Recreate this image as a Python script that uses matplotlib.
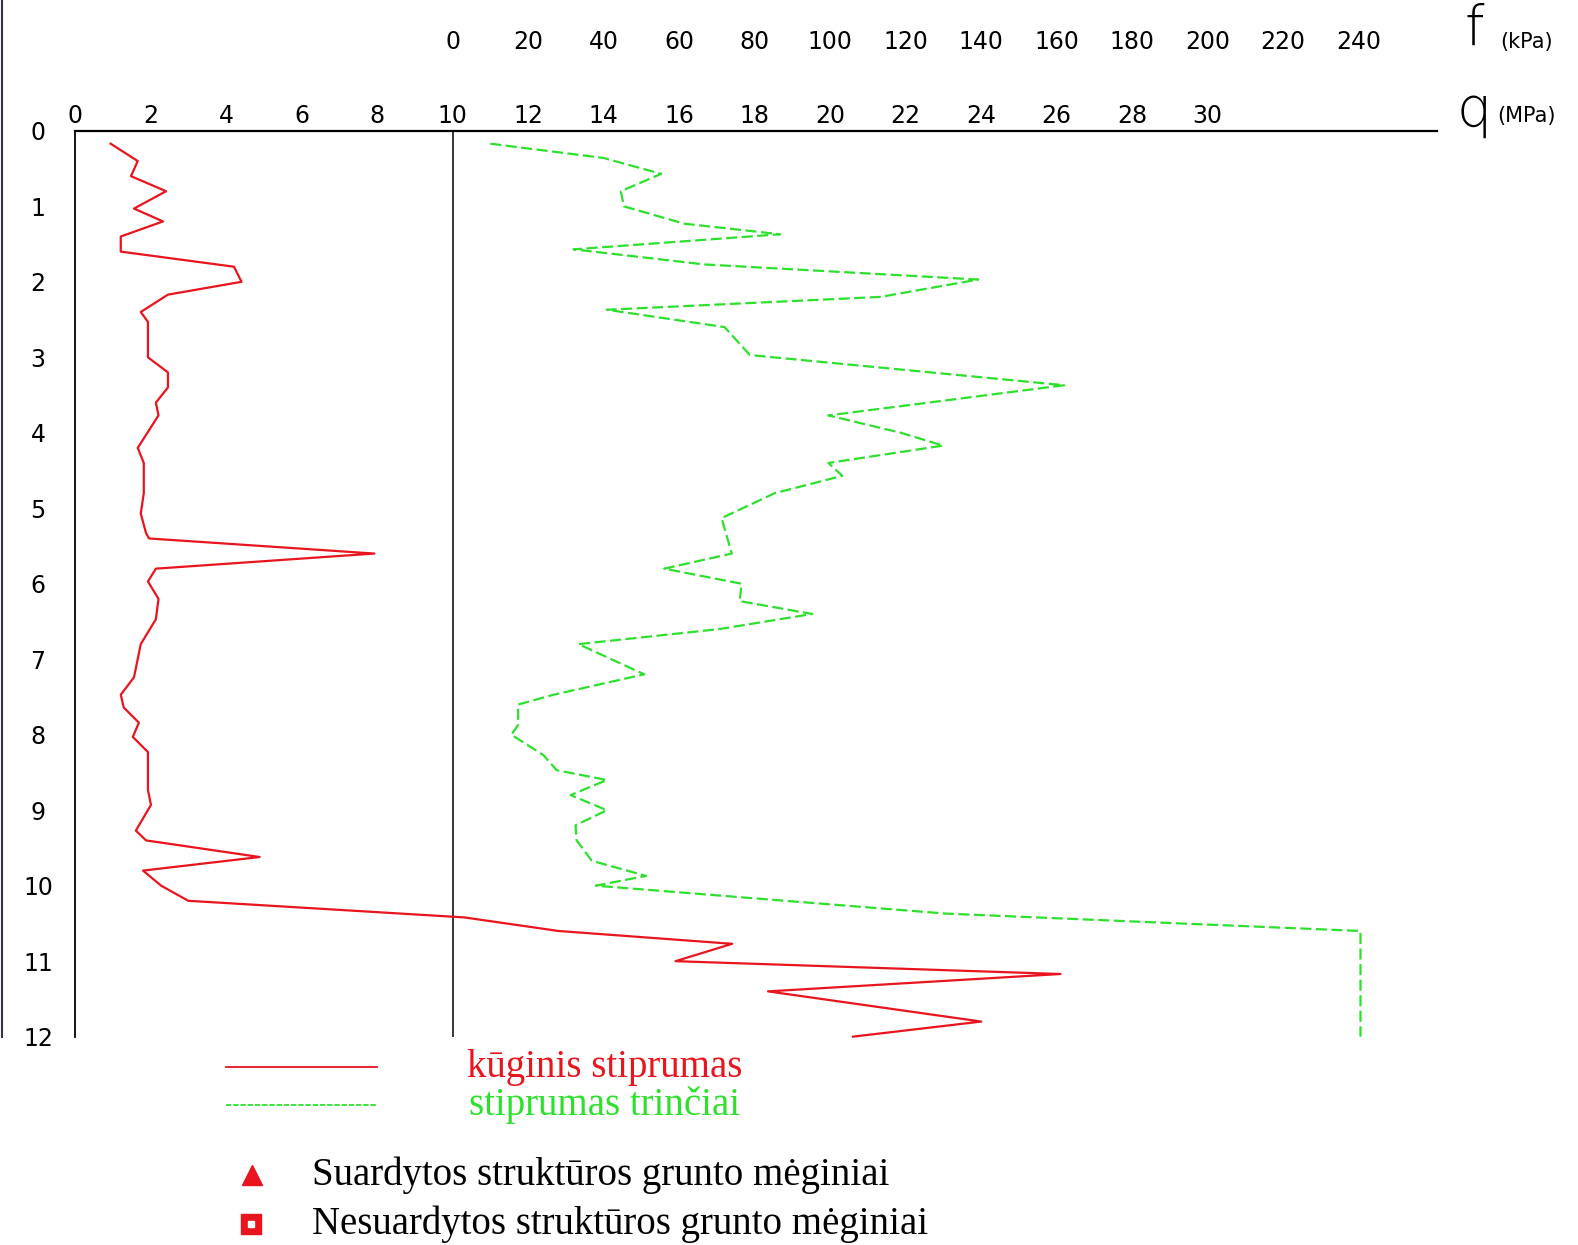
import numpy as np
import matplotlib
matplotlib.use('Agg')
from matplotlib import pyplot as plt
from matplotlib.lines import Line2D

# cone resistance q (MPa) vs depth (m)
q_depth = [0.17, 0.40, 0.60, 0.80, 1.03, 1.20, 1.40, 1.60, 1.80, 2.00, 2.17, 2.40, 2.53,
           3.00, 3.20, 3.40, 3.60, 3.77, 4.20, 4.40, 4.80, 5.07, 5.33, 5.40, 5.60, 5.80,
           5.97, 6.20, 6.47, 6.80, 7.24, 7.47, 7.64, 7.84, 8.03, 8.23, 8.73, 8.93, 9.27,
           9.40, 9.62, 9.80, 10.00, 10.20, 10.42, 10.60, 10.77, 11.00, 11.17, 11.40, 11.80, 12.00]
q_vals = [0.93, 1.65, 1.47, 2.40, 1.55, 2.32, 1.20, 1.20, 4.20, 4.40, 2.45, 1.73, 1.92,
          1.92, 2.45, 2.45, 2.13, 2.20, 1.65, 1.81, 1.81, 1.73, 1.87, 1.95, 7.92, 2.13,
          1.92, 2.20, 2.13, 1.73, 1.55, 1.20, 1.28, 1.68, 1.52, 1.92, 1.92, 2.00, 1.60,
          1.87, 4.88, 1.79, 2.27, 2.99, 10.30, 12.80, 17.40, 15.90, 26.10, 18.35, 24.00, 20.60]

# sleeve friction f (kPa) vs depth (m)
f_depth = [0.17, 0.36, 0.57, 0.80, 1.00, 1.23, 1.37, 1.57, 1.77, 1.97, 2.20, 2.37, 2.60,
           2.97, 3.37, 3.77, 4.00, 4.17, 4.40, 4.57, 4.80, 5.13, 5.60, 5.80, 6.00, 6.23,
           6.40, 6.60, 6.80, 7.20, 7.47, 7.60, 7.87, 8.00, 8.27, 8.47, 8.60, 8.80, 9.00,
           9.20, 9.40, 9.67, 9.87, 10.00, 10.37, 10.60, 12.00]
f_vals = [9.9, 40.0, 55.2, 44.5, 45.3, 61.3, 86.7, 32.0, 66.7, 139.2, 113.3, 40.8, 72.0,
          78.7, 162.0, 99.5, 118.7, 129.9, 99.5, 103.2, 85.3, 71.2, 73.9, 56.0, 76.5, 76.0,
          95.2, 70.7, 33.3, 50.7, 26.7, 17.3, 17.3, 15.5, 24.0, 27.5, 40.8, 31.2, 40.8,
          32.5, 32.8, 36.8, 51.2, 37.9, 130.7, 240.5, 240.5]

q_ticks = list(range(0, 31, 2))
f_ticks = list(range(0, 241, 20))
depth_ticks = list(range(0, 13))

red = '#e8141e'
green = '#2ee02e'

fig = plt.figure(figsize=(15.78, 12.45), dpi=100)
W, H = 1568.0, 1237.0
L, R, T, B = 75 / W, 1428 / W, 1 - 130 / H, 1 - 1030 / H
ax = fig.add_axes([L, B, R - L, T - B])
ax2 = ax.twiny()

q_max = (1428 - 75) / 37.5
ax.set_xlim(0, q_max)
ax.set_ylim(12, 0)
ax.xaxis.tick_top()
ax.set_xticks(q_ticks)
ax.set_yticks(depth_ticks)
ax.tick_params(axis='x', length=0, pad=2, labelsize=17, top=True, labeltop=True,
               bottom=False, labelbottom=False)
ax.tick_params(axis='y', length=0, pad=27, labelsize=17)
for lab in ax.get_yticklabels():
    lab.set_horizontalalignment('center')
for s in ['right', 'bottom']:
    ax.spines[s].set_visible(False)
ax.spines['top'].set_linewidth(1.6)
ax.spines['left'].set_linewidth(1.3)
ax.axvline(10, color='k', lw=1.1)

ax.plot(q_vals, q_depth, color=red, lw=1.6, clip_on=False)

# friction on its own top scale (0 kPa at q = 10 MPa, 20 kPa per 2 MPa)
ax2.set_xlim(-100, (q_max - 10) * 10)
ax2.set_xticks(f_ticks)
ax2.xaxis.set_ticks_position('top')
ax2.tick_params(axis='x', length=0, pad=55, labelsize=17)
for s in ax2.spines.values():
    s.set_visible(False)
ax2.plot(f_vals, f_depth, color=green, lw=1.6, dashes=(5, 2), clip_on=False)

# axis names
fig.text(1465 / W, 1 - 30 / H, 'f', fontsize=40, fontweight='light', ha='center', va='center')
fig.text(1517 / W, 1 - 42 / H, '(kPa)', fontsize=15, ha='center', va='center')
fig.text(1465 / W, 1 - 110 / H, 'q', fontsize=40, fontweight='light', ha='center', va='center')
fig.text(1517 / W, 1 - 115 / H, '(MPa)', fontsize=15, ha='center', va='center')

# left border line
fig.add_artist(Line2D([1.5 / W, 1.5 / W], [1, 1 - 1030 / H], color='#333344', lw=1.5))

# legend
serif = 'Liberation Serif'
fig.add_artist(Line2D([225 / W, 375 / W], [1 - 1060 / H] * 2, color=red, lw=1.3))
fig.add_artist(Line2D([225 / W, 375 / W], [1 - 1098 / H] * 2, color=green, lw=1.3, dashes=(3, 1)))
fig.text(601 / W, 1 - 1061 / H, 'kūginis stiprumas', family=serif, fontsize=28,
         color=red, ha='center', va='center')
fig.text(601 / W, 1 - 1098 / H, 'stiprumas trinčiai', family=serif, fontsize=28,
         color=green, ha='center', va='center')

fig.add_artist(Line2D([250 / W], [1 - 1167 / H], marker='^', ms=15, color=red, lw=0))
fig.add_artist(Line2D([249 / W], [1 - 1216 / H], marker='s', ms=14, color=red, lw=0))
fig.add_artist(Line2D([249 / W], [1 - 1216 / H], marker='s', ms=5, color='white', lw=0))
fig.text(310 / W, 1 - 1168 / H, 'Suardytos struktūros grunto mėginiai', family=serif,
         fontsize=28, color='black', ha='left', va='center')
fig.text(310 / W, 1 - 1216 / H, 'Nesuardytos struktūros grunto mėginiai', family=serif,
         fontsize=28, color='black', ha='left', va='center')

fig.savefig('out.png', dpi=100, facecolor='white')
